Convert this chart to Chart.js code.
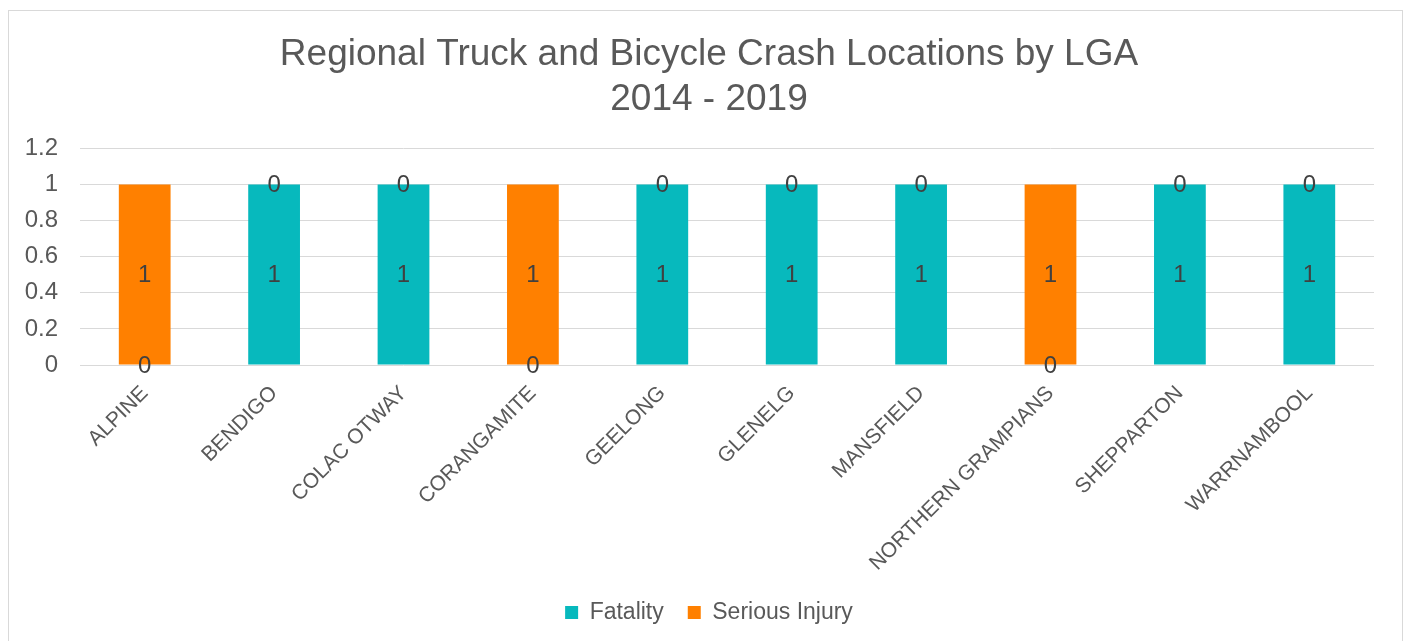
<!DOCTYPE html>
<html>
<head>
<meta charset="utf-8">
<script src="https://cdn.jsdelivr.net/npm/chart.js@4.4.1/dist/chart.umd.min.js"></script>
<style>
  html, body { margin: 0; padding: 0; background: #fff; overflow: hidden; }
  #wrap { position: relative; width: 1408px; height: 641px; overflow: hidden; }
  #frame { position: absolute; left: 8px; top: 10px; width: 1395px; height: 660px; border: 1px solid #d9d9d9; box-sizing: border-box; }
  canvas { position: absolute; left: 0; top: 0; }
</style>
</head>
<body>
<div id="wrap">
  <div id="frame"></div>
  <canvas id="c" width="1408" height="660"></canvas>
</div>
<script>
const categories = ["ALPINE", "BENDIGO", "COLAC OTWAY", "CORANGAMITE", "GEELONG", "GLENELG", "MANSFIELD", "NORTHERN GRAMPIANS", "SHEPPARTON", "WARRNAMBOOL"];
const fatality =      [0, 1, 1, 0, 1, 1, 1, 0, 1, 1];
const seriousInjury = [1, 0, 0, 1, 0, 0, 0, 1, 0, 0];
const titleLines = ["Regional Truck and Bicycle Crash Locations by LGA", "2014 - 2019"];

const FONT = "'Liberation Sans', Arial, sans-serif";

const labelPlugin = {
  id: 'barLabels',
  afterDatasetsDraw(chart) {
    const ctx = chart.ctx;
    ctx.save();
    ctx.font = "24px " + FONT;
    ctx.fillStyle = "#404040";
    ctx.textAlign = "center";
    ctx.textBaseline = "middle";
    chart.data.datasets.forEach((ds, di) => {
      const meta = chart.getDatasetMeta(di);
      meta.data.forEach((el, i) => {
        const y = (el.y + el.base) / 2;
        ctx.fillText(String(ds.data[i]), el.x, y + 1);
      });
    });
    ctx.restore();
  }
};

new Chart(document.getElementById('c'), {
  type: 'bar',
  data: {
    labels: categories,
    datasets: [
      { label: 'Fatality', data: fatality, backgroundColor: '#07B9BD', borderWidth: 0 },
      { label: 'Serious Injury', data: seriousInjury, backgroundColor: '#FF8000', borderWidth: 0 }
    ]
  },
  plugins: [labelPlugin],
  options: {
    responsive: false,
    animation: false,
    devicePixelRatio: 1,
    layout: { padding: { left: 18, right: 8, top: 32, bottom: 26 } },
    datasets: { bar: { barPercentage: 0.8, categoryPercentage: 0.5 } },
    scales: {
      x: {
        stacked: true,
        grid: { display: false, drawTicks: false },
        border: { display: false },
        ticks: {
          color: '#595959',
          font: { size: 21, family: FONT },
          minRotation: 45, maxRotation: 45,
          padding: 16
        },
        afterFit(s) { s.height = 212; }
      },
      y: {
        stacked: true,
        min: 0, max: 1.2,
        grid: { color: '#d9d9d9', lineWidth: 1, drawTicks: false },
        border: { display: false },
        ticks: {
          stepSize: 0.2,
          color: '#595959',
          font: { size: 24, family: FONT },
          padding: 22,
          callback: v => String(Math.round(v * 10) / 10)
        },
        afterFit(s) { s.width = 62; }
      },
      y2: {
        position: 'right',
        display: true,
        min: 0, max: 1.2,
        grid: { display: false, drawTicks: false },
        border: { display: false },
        ticks: { display: false },
        afterFit(s) { s.width = 26; }
      }
    },
    plugins: {
      title: {
        display: true,
        text: titleLines,
        color: '#595959',
        font: { size: 37, family: FONT, weight: 'normal', lineHeight: 1.22 },
        padding: { top: 0, bottom: 26 }
      },
      legend: {
        position: 'bottom',
        labels: {
          color: '#595959',
          font: { size: 23, family: FONT },
          boxWidth: 13, boxHeight: 13,
          padding: 24
        }
      },
      tooltip: { enabled: false }
    }
  }
});
</script>
</body>
</html>
